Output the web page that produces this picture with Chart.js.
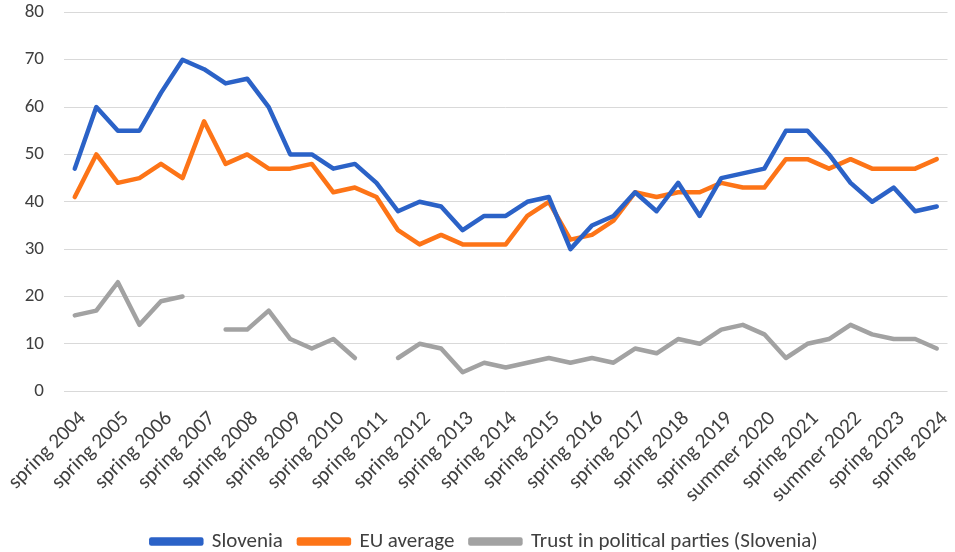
<!DOCTYPE html>
<html>
<head>
<meta charset="utf-8">
<script src="https://cdn.jsdelivr.net/npm/chart.js@4"></script>
<style>
  html, body { margin: 0; padding: 0; background: #fff; overflow: hidden; }
  /* a little wider than the window so the plot reaches the right edge */
  #wrap { width: 965px; height: 552px; }
</style>
</head>
<body>
<div id="wrap"><canvas id="chart"></canvas></div>
<script>
// survey waves (only every other one gets a visible label)
const categories = [
  'spring 2004', 'autumn 2004', 'spring 2005', 'autumn 2005', 'spring 2006', 'autumn 2006',
  'spring 2007', 'autumn 2007', 'spring 2008', 'autumn 2008', 'spring 2009', 'autumn 2009',
  'spring 2010', 'autumn 2010', 'spring 2011', 'autumn 2011', 'spring 2012', 'autumn 2012',
  'spring 2013', 'autumn 2013', 'spring 2014', 'autumn 2014', 'spring 2015', 'autumn 2015',
  'spring 2016', 'autumn 2016', 'spring 2017', 'autumn 2017', 'spring 2018', 'autumn 2018',
  'spring 2019', 'autumn 2019', 'summer 2020', 'winter 2020-2021', 'spring 2021',
  'winter 2021-2022', 'summer 2022', 'winter 2022-2023', 'spring 2023', 'autumn 2023', 'spring 2024'
];

const slovenia = [
  47, 60, 55, 55, 63, 70, 68, 65, 66, 60, 50, 50, 47, 48, 44, 38, 40, 39, 34, 37, 37,
  40, 41, 30, 35, 37, 42, 38, 44, 37, 45, 46, 47, 55, 55, 50, 44, 40, 43, 38, 39
];

const euAverage = [
  41, 50, 44, 45, 48, 45, 57, 48, 50, 47, 47, 48, 42, 43, 41, 34, 31, 33, 31, 31, 31,
  37, 40, 32, 33, 36, 42, 41, 42, 42, 44, 43, 43, 49, 49, 47, 49, 47, 47, 47, 49
];

// null = no data for that wave (line breaks)
const trustParties = [
  16, 17, 23, 14, 19, 20, null, 13, 13, 17, 11, 9, 11, 7, null, 7, 10, 9, 4, 6, 5,
  6, 7, 6, 7, 6, 9, 8, 11, 10, 13, 14, 12, 7, 10, 11, 14, 12, 11, 11, 9
];

const FONT = 'Carlito, Lato, sans-serif';

function lineSet(label, data, color) {
  return {
    label: label,
    data: data,
    borderColor: color,
    backgroundColor: color,
    borderWidth: 4.5,
    pointRadius: 0,
    pointHoverRadius: 0,
    tension: 0,
    spanGaps: false,
    borderJoinStyle: 'round',
    borderCapStyle: 'round'
  };
}

new Chart(document.getElementById('chart'), {
  type: 'line',
  data: {
    labels: categories,
    datasets: [
      lineSet('Slovenia', slovenia, '#2b62c7'),
      lineSet('EU average', euAverage, '#fd7417'),
      lineSet('Trust in political parties (Slovenia)', trustParties, '#a2a2a2')
    ]
  },
  options: {
    responsive: true,
    maintainAspectRatio: false,
    animation: false,
    layout: { padding: { top: 0, right: 0, left: 4, bottom: -10 } },
    plugins: {
      tooltip: { enabled: false },
      legend: {
        position: 'bottom',
        labels: {
          boxWidth: 50,
          boxHeight: 4,
          padding: 16,
          color: '#404040',
          font: { family: FONT, size: 21 }
        }
      }
    },
    scales: {
      x: {
        offset: true,
        grid: { display: false },
        border: { display: false },
        ticks: {
          autoSkip: false,
          minRotation: 45,
          maxRotation: 45,
          padding: 4,
          labelOffset: 8,
          color: '#404040',
          font: { family: FONT, size: 21, lineHeight: 1.65 },
          callback: function (value, index) {
            return index % 2 === 0 ? categories[index] : '';
          }
        }
      },
      y: {
        min: 0,
        max: 80,
        border: { display: false },
        // invisible tick marks make the gap between labels and plot
        grid: { color: '#d9d9d9', lineWidth: 1, drawTicks: true, tickLength: 19, tickColor: 'rgba(0,0,0,0)' },
        ticks: {
          stepSize: 10,
          padding: 1,
          color: '#404040',
          font: { family: FONT, size: 19 }
        }
      }
    }
  }
});
</script>
</body>
</html>
